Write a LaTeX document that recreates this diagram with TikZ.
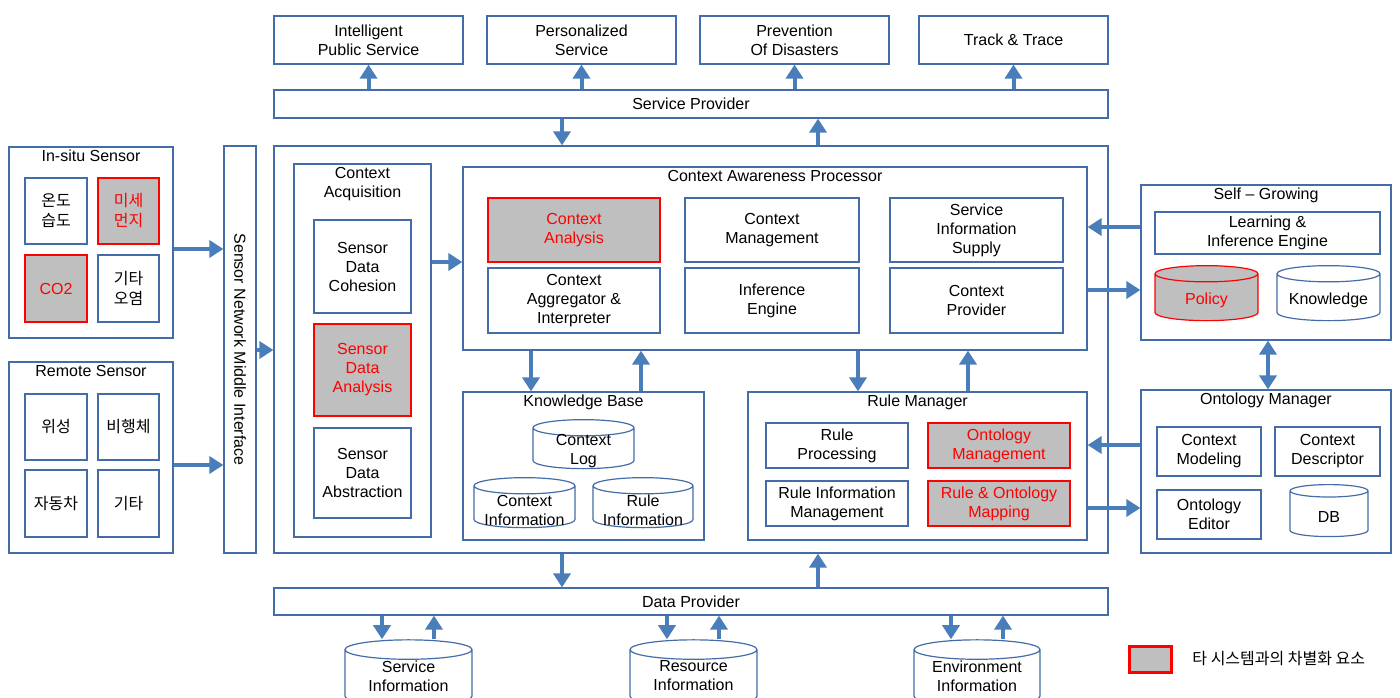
\documentclass[tikz,border=0pt]{standalone}
\usepackage{fontspec}
\setmainfont{Liberation Sans}
\newfontfamily\kr{Noto Sans CJK KR}
\usetikzlibrary{arrows.meta,shapes.geometric,positioning}
\definecolor{boxline}{RGB}{68,108,168}
\definecolor{arrowblue}{RGB}{74,126,187}
\definecolor{diffgray}{RGB}{191,191,191}
\definecolor{diffred}{RGB}{255,0,0}

\begin{document}
\begin{tikzpicture}[x=1pt, y=-1pt, line width=1.2pt,
  font=\fontsize{16}{19}\selectfont,
  sz/.style 2 args={minimum width=#1, minimum height=#2},
  box/.style={draw=boxline, fill=white, align=center, inner sep=1pt},
  diffbox/.style={box, draw=diffred, fill=diffgray, text=diffred},
  group/.style={draw=boxline, fill=white, inner sep=0pt},
  grptitle/.style={anchor=north, inner sep=3pt, align=center},
  db/.style={cylinder, shape border rotate=90, shape aspect=0.27, draw=boxline,
    fill=white, inner sep=0pt},
  dbtext/.style={align=center, inner sep=0pt},
  flow/.style={draw=arrowblue, line width=4pt, -{Triangle[width=17pt,length=14pt]}},
  ]
  \clip (0,0) rectangle (1400,698);
  % Services
  \node[box, sz={189}{48}] (ips) at (368.5,40) {Intelligent\\Public Service};
  \node[box, sz={189}{48}] (pers) at (581.5,40) {Personalized\\Service};
  \node[box, sz={189}{48}] (prev) at (794.5,40) {Prevention\\Of Disasters};
  \node[box, sz={189}{48}] (track) at (1013.5,40) {Track \& Trace};
  \node[box, sz={834}{28}] (sp) at (691,104) {Service Provider};
  \draw[flow] (sp.north -| ips) -- (ips.south);
  \draw[flow] (sp.north -| pers) -- (pers.south);
  \draw[flow] (sp.north -| prev) -- (prev.south);
  \draw[flow] (sp.north -| track) -- (track.south);

  % Main frame and middle interface
  \node[group, sz={834}{407}] (main) at (691,349.5) {};
  \node[group, sz={32}{407}] (sn) at (240,349.5) {};
  \node[rotate=-90] (snT) at (sn.center) {Sensor Network Middle Interface};
  \draw[flow] ([xshift=-129pt]sp.south) -- ([xshift=-129pt]sp.south |- main.north);
  \draw[flow] ([xshift=127pt]sp.south |- main.north) -- ([xshift=127pt]sp.south);

  % In-situ sensors
  \node[group, sz={164}{191}] (insitu) at (91,242.5) {};
  \node[grptitle] (insituT) at (insitu.north) {In-situ Sensor};
  \node[box, sz={62}{66}, font=\kr\fontsize{16}{20}\selectfont] (temp) at (56,211) {온도\\습도};
  \node[diffbox, sz={61}{66}, font=\kr\fontsize{16}{20}\selectfont] (dust) at (128.5,211) {미세\\먼지};
  \node[diffbox, sz={62}{67}] (co2) at (56,288.5) {CO2};
  \node[box, sz={61}{67}, font=\kr\fontsize{16}{20}\selectfont] (etcair) at (128.5,288.5) {기타\\오염};

  % Remote sensors
  \node[group, sz={164}{191}] (remote) at (91,457.5) {};
  \node[grptitle] (remoteT) at (remote.north) {Remote Sensor};
  \node[box, sz={62}{66}, font=\kr\fontsize{16}{20}\selectfont] (sat) at (56,427) {위성};
  \node[box, sz={61}{66}, font=\kr\fontsize{16}{20}\selectfont] (uav) at (128.5,427) {비행체};
  \node[box, sz={62}{67}, font=\kr\fontsize{16}{20}\selectfont] (car) at (56,503.5) {자동차};
  \node[box, sz={61}{67}, font=\kr\fontsize{16}{20}\selectfont] (etc) at (128.5,503.5) {기타};
  \draw[flow] (insitu.east |- 0,249) -- (sn.west |- 0,249);
  \draw[flow] (remote.east |- 0,465) -- (sn.west |- 0,465);
  \draw[flow] (sn.east |- 0,350) -- (main.west |- 0,350);

  % Context acquisition
  \node[group, sz={137}{373}] (acq) at (362.5,350.5) {};
  \node[grptitle] (acqT) at (acq.north) {Context\\Acquisition};
  \node[box, sz={97}{93}] (coh) at (362.5,266.5) {Sensor\\Data\\Cohesion};
  \node[diffbox, sz={97}{92}] (ana) at (362.5,370) {Sensor\\Data\\Analysis};
  \node[box, sz={97}{90}] (abs) at (362.5,473) {Sensor\\Data\\Abstraction};

  % Context awareness processor
  \node[group, sz={624}{183}] (cap) at (775,258.5) {};
  \node[grptitle] (capT) at (cap.north) {Context Awareness Processor};
  \node[diffbox, sz={172}{64}] (cana) at (574,230) {Context\\Analysis};
  \node[box, sz={172}{65}] (cagg) at (574,300.5) {Context\\Aggregator \&\\Interpreter};
  \node[box, sz={174}{64}] (cman) at (772,230) {Context\\Management};
  \node[box, sz={174}{65}] (ieng) at (772,300.5) {Inference\\Engine};
  \node[box, sz={173}{64}] (sis) at (976.5,230) {Service\\Information\\Supply};
  \node[box, sz={173}{65}] (cprov) at (976.5,300.5) {Context\\Provider};
  \draw[flow] (acq.east |- 0,262) -- (cap.west |- 0,262);

  % Knowledge base
  \node[group, sz={241}{148}] (kb) at (583.5,466) {};
  \node[grptitle] (kbT) at (kb.north) {Knowledge Base};
  \node[db, sz={101}{49}] (clog) at (583.5,448.5) {\rule{60pt}{0pt}};
  \node[dbtext] (clogT) at ([yshift=-3pt]clog.center) {Context\\Log};
  \node[db, sz={101}{50}] (cinfo) at (524.5,507) {\rule{60pt}{0pt}};
  \node[dbtext] (cinfoT) at ([yshift=-3pt]cinfo.center) {Context\\Information};
  \node[db, sz={100}{50}] (rinfo) at (643,507) {\rule{60pt}{0pt}};
  \node[dbtext] (rinfoT) at ([yshift=-3pt]rinfo.center) {Rule\\Information};

  % Rule manager
  \node[group, sz={339}{148}] (rm) at (917.5,466) {};
  \node[grptitle] (rmT) at (rm.north) {Rule Manager};
  \node[box, sz={142}{45}] (rproc) at (837,445.5) {Rule\\Processing};
  \node[diffbox, sz={142}{45}] (oman) at (999,445.5) {Ontology\\Management};
  \node[box, sz={142}{45}] (rim) at (837,503.5) {Rule Information\\Management};
  \node[diffbox, sz={142}{45}] (romap) at (999,503.5) {Rule \& Ontology\\Mapping};
  \draw[flow] (cap.south -| 531,0) -- (kb.north -| 531,0);
  \draw[flow] (kb.north -| 641,0) -- (cap.south -| 641,0);
  \draw[flow] (cap.south -| 858,0) -- (rm.north -| 858,0);
  \draw[flow] (rm.north -| 968,0) -- (cap.south -| 968,0);

  % Self-growing
  \node[group, sz={250}{155}] (sg) at (1266,262.5) {};
  \node[grptitle] (sgT) at (sg.north) {Self -- Growing};
  \node[box, sz={225}{42}] (lie) at (1267.5,233) {Learning \&\\Inference Engine};
  \node[db, sz={103}{55}, draw=diffred, fill=diffgray] (policy) at (1206.5,297.5) {\rule{60pt}{0pt}};
  \node[dbtext, text=diffred] (policyT) at ([yshift=-3pt]policy.center) {Policy};
  \node[db, sz={103}{55}] (know) at (1328.5,297.5) {\rule{60pt}{0pt}};
  \node[dbtext] (knowT) at ([yshift=-3pt]know.center) {Knowledge};
  \draw[flow] (sg.west |- 0,227) -- (cap.east |- 0,227);
  \draw[flow] (cap.east |- 0,290) -- (sg.west |- 0,290);

  % Ontology manager
  \node[group, sz={250}{163}] (om) at (1266,471.5) {};
  \node[grptitle] (omT) at (om.north) {Ontology Manager};
  \node[box, sz={104}{49}] (cmod) at (1209,451.5) {Context\\Modeling};
  \node[box, sz={105}{49}] (cdesc) at (1327.5,451.5) {Context\\Descriptor};
  \node[box, sz={104}{49}] (oed) at (1209,514.5) {Ontology\\Editor};
  \node[db, sz={78}{52}] (odb) at (1329,514) {\rule{46pt}{0pt}};
  \node[dbtext] (odbT) at ([yshift=-3pt]odb.center) {DB};
  \draw[flow, {Triangle[width=17pt,length=14pt]}-{Triangle[width=17pt,length=14pt]}]
    (sg.south -| 1268,0) -- (om.north -| 1268,0);
  \draw[flow] (om.west |- 0,445) -- (rm.east |- 0,445);
  \draw[flow] (rm.east |- 0,508) -- (om.west |- 0,508);

  % Data provider
  \node[box, sz={834}{27}] (dp) at (691,601.5) {Data Provider};
  \draw[flow] (main.south -| 562,0) -- (dp.north -| 562,0);
  \draw[flow] (dp.north -| 818,0) -- (main.south -| 818,0);
  \node[db, sz={127}{66}] (sinfo) at (408.5,678) {\rule{72pt}{0pt}};
  \node[dbtext] (sinfoT) at (408.5,676) {Service\\Information};
  \node[db, sz={127}{66}] (resinfo) at (693.5,678) {\rule{72pt}{0pt}};
  \node[dbtext] (resinfoT) at (693.5,676) {Resource\\Information};
  \node[db, sz={126}{66}] (einfo) at (977,678) {\rule{72pt}{0pt}};
  \node[dbtext] (einfoT) at (977,676) {Environment\\Information};
  \draw[flow] (dp.south -| 382,0) -- (sinfo.north -| 382,0);
  \draw[flow] (sinfo.north -| 434,0) -- (dp.south -| 434,0);
  \draw[flow] (dp.south -| 667,0) -- (resinfo.north -| 667,0);
  \draw[flow] (resinfo.north -| 719,0) -- (dp.south -| 719,0);
  \draw[flow] (dp.south -| 951,0) -- (einfo.north -| 951,0);
  \draw[flow] (einfo.north -| 1003,0) -- (dp.south -| 1003,0);

  % Legend
  \node[draw=diffred, fill=diffgray, line width=3pt, sz={42}{26}] (key) at (1150,659) {};
  \node[right=16pt of key, font=\kr\fontsize{16}{19}\selectfont] (keyT) {타 시스템과의 차별화 요소};
\end{tikzpicture}
\end{document}
